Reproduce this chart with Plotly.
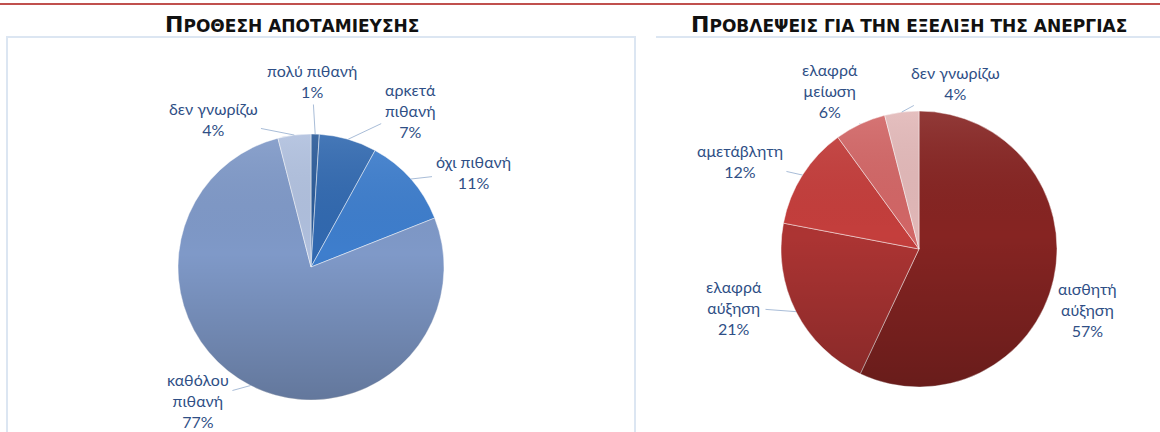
import math
import base64
import plotly.graph_objects as go

W, H = 1160, 432

# ---- data ----
left_title = "ΠΡΟΘΕΣΗ ΑΠΟΤΑΜΙΕΥΣΗΣ"
left_labels = ["πολύ πιθανή", "αρκετά πιθανή", "όχι πιθανή", "καθόλου πιθανή", "δεν γνωρίζω"]
left_values = [1, 7, 11, 77, 4]

right_title = "ΠΡΟΒΛΕΨΕΙΣ ΓΙΑ ΤΗΝ ΕΞΕΛΙΞΗ ΤΗΣ ΑΝΕΡΓΙΑΣ"
right_labels = ["αισθητή αύξηση", "ελαφρά αύξηση", "αμετάβλητη", "ελαφρά μείωση", "δεν γνωρίζω"]
right_values = [57, 21, 12, 6, 4]

# ---- style ----
left_colors = ["#2A5A98", "#3169B0", "#3E7ECD", "#7F99C8", "#B0C0DE"]
right_colors = ["#862422", "#AC3433", "#C43E3C", "#D26666", "#E2B8B8"]
left_text = ["πολύ πιθανή<br>1%", "αρκετά<br>πιθανή<br>7%", "όχι πιθανή<br>11%",
             "καθόλου<br>πιθανή<br>77%", "δεν γνωρίζω<br>4%"]
right_text = ["αισθητή<br>αύξηση<br>57%", "ελαφρά<br>αύξηση<br>21%", "αμετάβλητη<br>12%",
              "ελαφρά<br>μείωση<br>6%", "δεν γνωρίζω<br>4%"]
# label centre positions (pixels) and whether a leader line is drawn
left_label_pos = [(312, 81), (410, 110), (473, 172), (198, 400), (213, 119)]
left_leader = [True, True, True, True, True]
right_label_pos = [(1087, 309), (734, 307), (740, 161), (830, 90), (955, 83)]
right_leader = [False, True, True, True, True]

L_C, L_R = (311, 267), 133
R_C, R_R = (919, 249), 138

LABEL_FONT = dict(family="Lato, 'Noto Sans', sans-serif", size=16, color="#2F4F86")


def px2paper(x, y):
    return x / W, 1 - y / H


def domain(c, r):
    x0, y1 = px2paper(c[0] - r, c[1] - r)
    x1, y0 = px2paper(c[0] + r, c[1] + r)
    return dict(x=[x0, x1], y=[y0, y1])


fig = go.Figure()
for labels, values, colors, c, r in [
    (left_labels, left_values, left_colors, L_C, L_R),
    (right_labels, right_values, right_colors, R_C, R_R),
]:
    fig.add_trace(go.Pie(
        labels=labels, values=values, sort=False, direction="clockwise", rotation=0,
        marker=dict(colors=colors, line=dict(color="rgba(255,255,255,0.6)", width=0.8)),
        textinfo="none", hoverinfo="label+percent", showlegend=False,
        domain=domain(c, r),
    ))

# subtle vertical shading over each pie (lighter top, darker bottom)
svg = ("<svg xmlns='http://www.w3.org/2000/svg' width='200' height='200' viewBox='0 0 200 200'>"
       "<defs><linearGradient id='g' x1='0' y1='0' x2='0' y2='1'>"
       "<stop offset='0' stop-color='#ffffff' stop-opacity='0.10'/>"
       "<stop offset='0.45' stop-color='#000000' stop-opacity='0'/>"
       "<stop offset='1' stop-color='#000000' stop-opacity='0.22'/>"
       "</linearGradient></defs><circle cx='100' cy='100' r='100' fill='url(#g)'/></svg>")
svg_uri = "data:image/svg+xml;base64," + base64.b64encode(svg.encode()).decode()
images = []
for c, r in [(L_C, L_R), (R_C, R_R)]:
    x0, y1 = px2paper(c[0] - r, c[1] - r)
    images.append(dict(source=svg_uri, xref="paper", yref="paper", x=x0, y=y1,
                       sizex=2 * r / W, sizey=2 * r / H, xanchor="left", yanchor="top",
                       sizing="stretch", layer="above"))

annotations = []
for values, texts, pos, leader, c, r in [
    (left_values, left_text, left_label_pos, left_leader, L_C, L_R),
    (right_values, right_text, right_label_pos, right_leader, R_C, R_R),
]:
    total = sum(values)
    cum = 0
    for v, t, p, ld in zip(values, texts, pos, leader):
        mid = (cum + v / 2) / total * 2 * math.pi
        cum += v
        tx = c[0] + r * math.sin(mid)
        ty = c[1] - r * math.cos(mid)
        if ld:
            xx, yy = px2paper(tx, ty)
            annotations.append(dict(
                x=xx, y=yy, xref="paper", yref="paper", text=t, showarrow=True,
                arrowhead=0, arrowwidth=1, arrowcolor="#A9BDD8", standoff=0, startstandoff=2,
                ax=p[0] - tx, ay=p[1] - ty, axref="pixel", ayref="pixel",
                font=LABEL_FONT, align="center",
            ))
        else:
            xx, yy = px2paper(*p)
            annotations.append(dict(
                x=xx, y=yy, xref="paper", yref="paper", text=t, showarrow=False,
                font=LABEL_FONT, align="center", xanchor="center", yanchor="middle",
            ))

TITLE_FONT = dict(family="'DejaVu Sans', sans-serif", size=17, color="#111111")
for title, cx in [(left_title, 292), (right_title, 909)]:
    xx, yy = px2paper(cx, 25)
    annotations.append(dict(
        x=xx, y=yy, xref="paper", yref="paper", showarrow=False,
        text="<b><span style='font-size:22px'>" + title[0] + "</span>" + title[1:] + "</b>",
        font=TITLE_FONT, xanchor="center", yanchor="middle",
    ))

shapes = [
    dict(type="line", xref="paper", yref="paper", x0=0, x1=1,
         y0=1 - 4 / H, y1=1 - 4 / H, line=dict(color="#C0504D", width=2)),
    dict(type="rect", xref="paper", yref="paper",
         x0=7 / W, x1=635 / W, y0=1 - 440 / H, y1=1 - 37 / H,
         line=dict(color="#DCE6F2", width=2)),
    dict(type="line", xref="paper", yref="paper", x0=656 / W, x1=1,
         y0=1 - 37 / H, y1=1 - 37 / H, line=dict(color="#DCE6F2", width=2)),
]

fig.update_layout(
    width=W, height=H, margin=dict(l=0, r=0, t=0, b=0),
    paper_bgcolor="white", plot_bgcolor="white",
    annotations=annotations, shapes=shapes, images=images,
)
fig.write_html("out.html", config={"displayModeBar": False},
               post_script="document.body.style.margin='0';")
